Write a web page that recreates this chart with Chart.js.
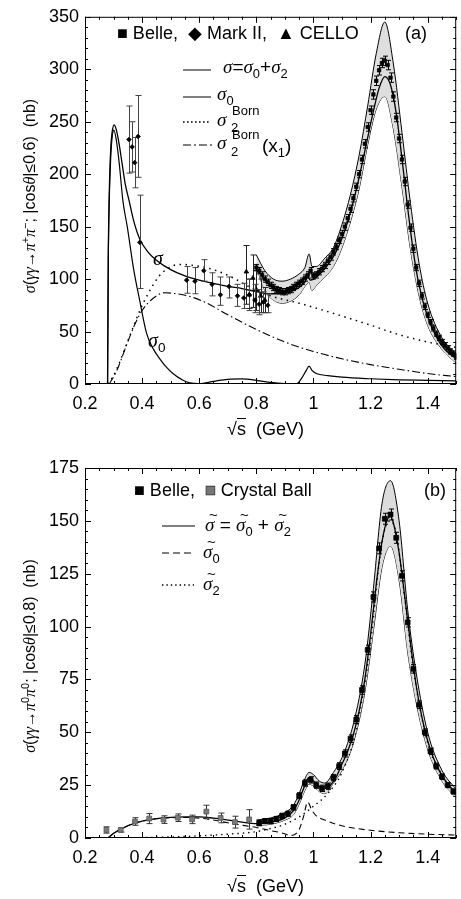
<!DOCTYPE html>
<html><head><meta charset="utf-8">
<script src="https://cdn.jsdelivr.net/npm/chart.js@4.4.1/dist/chart.umd.min.js"></script>
<style>
html,body{margin:0;padding:0;background:#fff;}
body{width:461px;height:899px;position:relative;overflow:hidden;font-family:"Liberation Sans",Arial,sans-serif;color:#000;}
.panel{position:absolute;left:0;width:461px;}
.t{position:absolute;white-space:nowrap;line-height:1;z-index:2;}
.sym{font-family:"Liberation Serif","DejaVu Serif",serif;font-style:italic;}
sub,sup{font-family:"Liberation Sans",sans-serif;font-style:normal;font-size:68%;line-height:0;}
.ytitle{position:absolute;white-space:nowrap;transform:translate(-50%,-50%) rotate(-90deg);font-size:16px;line-height:1;z-index:2;}
.sm{font-size:13px;}
.tl{position:relative;display:inline-block;}
.tl::after{content:"~";position:absolute;left:4px;top:-8px;font-size:15px;font-style:normal;font-family:"Liberation Sans",sans-serif;}
svg.t{overflow:visible;}
</style></head>
<body>
<div class="panel" style="top:0;height:450px"><canvas id="cA"></canvas></div>
<div class="panel" style="top:450px;height:449px"><canvas id="cB"></canvas></div>

<!-- panel (a) labels -->
<div class="ytitle" style="left:30px;top:196px"><span class="sym">σ</span>(<span class="sym">γγ</span>→<span class="sym">π</span><sup>+</sup><span class="sym">π</span><sup>−</sup>; |cos<span class="sym">θ</span>|≤0.6)&nbsp;&nbsp;(nb)</div>
<div class="t" style="left:227px;top:420px;font-size:18px">√<span style="border-top:1.4px solid #000">s</span>&nbsp;&nbsp;(GeV)</div>
<div class="t" style="left:117px;top:24px;font-size:18px">■ Belle,&nbsp; ◆ Mark II,&nbsp; ▲ CELLO</div>
<div class="t" style="left:405px;top:24px;font-size:18px">(a)</div>
<svg class="t" style="left:183px;top:64px" width="28" height="12"><line x1="0" y1="6" x2="28" y2="6" stroke="#000" stroke-width="1"/></svg>
<div class="t" style="left:223px;top:57px;font-size:19px"><span class="sym">σ</span>=<span class="sym">σ</span><sub>0</sub>+<span class="sym">σ</span><sub>2</sub></div>
<svg class="t" style="left:183px;top:91px" width="28" height="12"><line x1="0" y1="6" x2="28" y2="6" stroke="#000" stroke-width="1"/></svg>
<div class="t" style="left:217px;top:84px;font-size:19px"><span class="sym">σ</span><sub>0</sub></div>
<svg class="t" style="left:183px;top:116px" width="26" height="12"><line x1="0" y1="6" x2="26" y2="6" stroke="#000" stroke-width="1.6" stroke-dasharray="1.6 2.4"/></svg>
<div class="t sym" style="left:217px;top:110px;font-size:19px">σ</div>
<div class="t sm" style="left:231px;top:121px">2</div>
<div class="t sm" style="left:232px;top:104px">Born</div>
<svg class="t" style="left:183px;top:139px" width="30" height="12"><line x1="0" y1="6" x2="30" y2="6" stroke="#000" stroke-width="1" stroke-dasharray="8 3 2 3"/></svg>
<div class="t sym" style="left:217px;top:133px;font-size:19px">σ</div>
<div class="t sm" style="left:231px;top:145px">2</div>
<div class="t sm" style="left:232px;top:128px">Born</div>
<div class="t" style="left:262px;top:136px;font-size:19px">(x<sub>1</sub>)</div>
<div class="t sym" style="left:153px;top:248px;font-size:20px">σ</div>
<div class="t" style="left:148px;top:330px;font-size:20px"><span class="sym">σ</span><sub>0</sub></div>

<!-- panel (b) labels -->
<div class="ytitle" style="left:30px;top:656px"><span class="sym">σ</span>(<span class="sym">γγ</span>→<span class="sym">π</span><sup>0</sup><span class="sym">π</span><sup>0</sup>; |cos<span class="sym">θ</span>|≤0.8)&nbsp;&nbsp;(nb)</div>
<div class="t" style="left:227px;top:877px;font-size:18px">√<span style="border-top:1.4px solid #000">s</span>&nbsp;&nbsp;(GeV)</div>
<div class="t" style="left:134px;top:481px;font-size:18px">■ Belle,&nbsp; <span style="color:#777;-webkit-text-stroke:0.8px #333">■</span> Crystal Ball</div>
<div class="t" style="left:424px;top:481px;font-size:18px">(b)</div>
<svg class="t" style="left:162px;top:520px" width="33" height="12"><line x1="0" y1="6" x2="33" y2="6" stroke="#000" stroke-width="1"/></svg>
<div class="t" style="left:205px;top:515px;font-size:19px"><span class="sym tl">σ</span> = <span class="sym tl">σ</span><sub>0</sub> + <span class="sym tl">σ</span><sub>2</sub></div>
<svg class="t" style="left:162px;top:547px" width="32" height="12"><line x1="0" y1="6" x2="32" y2="6" stroke="#000" stroke-width="1" stroke-dasharray="7 4"/></svg>
<div class="t" style="left:203px;top:542px;font-size:19px"><span class="sym tl">σ</span><sub>0</sub></div>
<svg class="t" style="left:162px;top:579px" width="32" height="12"><line x1="0" y1="6" x2="32" y2="6" stroke="#000" stroke-width="1.4" stroke-dasharray="1.4 3"/></svg>
<div class="t" style="left:203px;top:574px;font-size:19px"><span class="sym tl">σ</span><sub>2</sub></div>

<script>
// ---------- axes ----------
const xTicks = [0.2, 0.4, 0.6, 0.8, 1.0, 1.2, 1.4];
const xTickLabels = ['0.2', '0.4', '0.6', '0.8', '1', '1.2', '1.4'];
const yTicksA = [0, 50, 100, 150, 200, 250, 300, 350];
const yTicksB = [0, 25, 50, 75, 100, 125, 150, 175];

// ---------- (a) gamma gamma -> pi+ pi- ----------
const sigA_x = [0.279, 0.2815, 0.285, 0.29, 0.295, 0.302, 0.31, 0.32, 0.33, 0.34, 0.355, 0.371, 0.392, 0.42, 0.45, 0.5, 0.55, 0.6, 0.65, 0.7, 0.75, 0.8, 0.84, 0.88, 0.92, 0.95, 0.97, 0.98, 0.99, 1.0, 1.03, 1.06, 1.09, 1.12, 1.15, 1.18, 1.21, 1.23, 1.25, 1.27, 1.29, 1.31, 1.33, 1.35, 1.37, 1.4, 1.43, 1.46, 1.5];
const sigA   = [0, 120, 182, 224, 240, 247, 242, 228, 210, 192, 174, 155, 138, 126, 118, 109, 103, 99, 96, 93, 91, 88, 86, 86, 88, 92, 97, 102, 99, 100, 107, 117, 132, 155, 185, 222, 260, 282, 293, 285, 258, 215, 168, 126, 94, 64, 45, 33, 24];

const sig0A_x = [0.279, 0.2815, 0.285, 0.29, 0.295, 0.301, 0.31, 0.32, 0.333, 0.348, 0.37, 0.392, 0.416, 0.44, 0.462, 0.485, 0.508, 0.54, 0.567, 0.6, 0.65, 0.7, 0.75, 0.8, 0.85, 0.9, 0.94, 0.96, 0.975, 0.985, 0.995, 1.01, 1.05, 1.1, 1.2, 1.3, 1.4, 1.5];
const sig0A   = [0, 115, 175, 215, 235, 242, 232, 210, 174, 150, 110, 79, 48, 33, 24, 16, 10, 4, 1, 0.3, 2.5, 4.5, 4.8, 3.5, 1.5, 0.3, 0, 6, 13, 17, 13, 10, 8, 6.5, 5, 4, 3.5, 3];

const bornA_x = [0.28, 0.3, 0.32, 0.347, 0.37, 0.392, 0.427, 0.46, 0.49, 0.53, 0.58, 0.65, 0.72, 0.78, 0.85, 0.95, 1.05, 1.19, 1.3, 1.4, 1.5];
const bornA   = [0, 8, 20, 39, 55, 70, 89, 103, 110, 114, 113, 109, 101, 92, 84, 77, 69, 57, 47, 40, 35];

const bornX1A_x = [0.285, 0.31, 0.34, 0.37, 0.4, 0.44, 0.48, 0.52, 0.56, 0.62, 0.7, 0.8, 0.9, 1.0, 1.1, 1.2, 1.3, 1.4, 1.5];
const bornX1A   = [0, 12, 33, 54, 70, 82, 87, 86, 84, 78, 66, 52, 40, 31, 24, 18.5, 14, 10, 7];

const bandA_x  = [0.80, 0.83, 0.86, 0.89, 0.92, 0.95, 0.97, 0.985, 0.995, 1.01, 1.04, 1.07, 1.10, 1.13, 1.16, 1.19, 1.22, 1.25, 1.28, 1.31, 1.34, 1.37, 1.40, 1.45, 1.50];
const bandA_hi = [123, 108, 100, 98, 100, 105, 111, 124, 112, 112, 120, 130, 152, 181, 218, 265, 315, 345, 305, 240, 172, 115, 77, 44, 29];
const bandA_lo = [112, 89, 80, 77, 79, 85, 93, 97, 89, 94, 102, 112, 130, 155, 186, 228, 262, 274, 243, 188, 128, 84, 56, 33, 20];

const belleA_x = [0.80, 0.81, 0.82, 0.83, 0.84, 0.85, 0.86, 0.87, 0.88, 0.89, 0.90, 0.91, 0.92, 0.93, 0.94, 0.95, 0.96, 0.97, 0.98, 0.99, 1.00, 1.01, 1.02, 1.03, 1.04, 1.05, 1.06, 1.07, 1.08, 1.09, 1.10, 1.11, 1.12, 1.13, 1.14, 1.15, 1.16, 1.17, 1.18, 1.19, 1.20, 1.21, 1.22, 1.23, 1.24, 1.25, 1.26, 1.27, 1.28, 1.29, 1.30, 1.31, 1.32, 1.33, 1.34, 1.35, 1.36, 1.37, 1.38, 1.39, 1.40, 1.41, 1.42, 1.43, 1.44, 1.45, 1.46, 1.47, 1.48, 1.49, 1.50];
const belleA   = [111, 108, 104, 100, 97, 94, 92, 90, 89, 88, 88, 89, 90, 92, 94, 96, 98, 101, 104, 108, 103, 104, 107, 110, 113, 117, 121, 126, 131, 137, 143, 150, 158, 167, 177, 188, 200, 214, 229, 245, 261, 276, 289, 299, 306, 308, 304, 292, 274, 254, 234, 214, 193, 171, 149, 129, 111, 96, 84, 74, 66, 59, 53, 48, 44, 40, 37, 34, 31, 29, 26];
const belleA_err = [3, 3, 3, 3, 3, 3, 3, 3, 3, 3, 3, 3, 3, 3, 3, 3, 3, 3, 3, 3, 3, 3, 3, 3, 3, 3, 3, 3, 3, 3, 3.5, 3.5, 3.5, 3.5, 3.5, 3.5, 3.5, 4, 4, 4, 4, 4.5, 4.5, 4.5, 4.5, 4.5, 4.5, 4.5, 4.5, 4, 4, 4, 4, 3.5, 3.5, 3.5, 3, 3, 3, 3, 2.5, 2.5, 2.5, 2.5, 2.5, 2.5, 2.5, 2.5, 2.5, 2.5, 2.5];

const markII_x  = [0.354, 0.365, 0.374, 0.386, 0.392, 0.556, 0.585, 0.616, 0.645, 0.674, 0.704, 0.734, 0.756, 0.776, 0.795, 0.81, 0.825, 0.84];
const markII    = [233, 226, 211, 236, 135, 99, 98, 108, 95, 85, 93, 84, 82, 85, 80, 76, 78, 75];
const markII_lo = [201, 202, 187, 197, 91, 86.5, 86, 98, 84, 75, 82, 74, 72, 70, 68, 66, 68, 68];
const markII_hi = [265, 250, 235, 275, 180, 112, 111, 118.5, 106, 102, 102, 95, 96, 100, 95, 90, 88, 86];

const cello_x  = [0.765, 0.775, 0.788, 0.80, 0.815, 0.83];
const cello    = [107, 85, 101, 90, 84, 80];
const cello_lo = [76, 72, 73, 70, 68, 68];
const cello_hi = [132, 100, 123, 108, 100, 92];

// ---------- (b) gamma gamma -> pi0 pi0 ----------
const sigB_x = [0.28, 0.30, 0.35, 0.40, 0.45, 0.50, 0.55, 0.60, 0.65, 0.70, 0.75, 0.80, 0.85, 0.90, 0.93, 0.95, 0.97, 0.98, 0.99, 1.00, 1.02, 1.04, 1.06, 1.08, 1.10, 1.12, 1.14, 1.16, 1.18, 1.20, 1.22, 1.24, 1.26, 1.27, 1.28, 1.30, 1.32, 1.34, 1.36, 1.38, 1.40, 1.42, 1.44, 1.46, 1.48, 1.50];
const sigB   = [0, 2.2, 5.8, 8, 9.2, 9.8, 10, 10, 9.4, 8.5, 7.5, 6.8, 7.5, 9.5, 13, 18, 25, 28, 28.5, 27, 24.5, 23.5, 25, 29, 35, 41, 49, 60, 75, 96, 120, 140, 151, 152, 149, 135, 114, 92, 72, 57, 46, 38, 32, 27.5, 24, 21];

const sig0B_x = [0.28, 0.30, 0.35, 0.40, 0.45, 0.50, 0.55, 0.60, 0.65, 0.70, 0.75, 0.80, 0.85, 0.89, 0.92, 0.95, 0.965, 0.98, 0.995, 1.01, 1.04, 1.08, 1.12, 1.19, 1.30, 1.40, 1.50];
const sig0B   = [0, 2.2, 5.8, 8, 9.1, 9.6, 9.7, 9.4, 8.5, 7.2, 6, 5, 3.5, 2.4, 1.2, 4, 10, 17, 13, 10.5, 8.5, 6.5, 5.2, 3.8, 2.5, 1.8, 1.4];

const sig2B_x = [0.28, 0.40, 0.50, 0.60, 0.70, 0.80, 0.85, 0.90, 0.95, 1.00, 1.05, 1.10, 1.15, 1.20, 1.23, 1.25, 1.27, 1.29, 1.32, 1.35, 1.40, 1.45, 1.50];
const sig2B   = [0, 0.2, 0.5, 1, 1.8, 3, 4.5, 6.5, 10, 15, 21, 31, 51, 92, 130, 146, 150, 144, 113, 80, 45, 30, 20];

const bandB_x  = [0.80, 0.85, 0.90, 0.93, 0.95, 0.97, 0.985, 1.00, 1.02, 1.04, 1.07, 1.10, 1.14, 1.18, 1.21, 1.24, 1.27, 1.30, 1.33, 1.36, 1.40, 1.45, 1.50];
const bandB_hi = [8.5, 9.5, 12, 15.5, 21, 28, 31, 30, 27, 26, 31, 38, 54, 82, 118, 158, 169, 150, 108, 78, 50, 32, 23];
const bandB_lo = [6, 6.5, 8.5, 11, 16, 22.5, 25.5, 24.5, 22, 21, 26, 32, 45, 69, 98, 128, 138, 122, 88, 64, 42, 27, 19];

const belleB_x = [0.81, 0.83, 0.85, 0.87, 0.89, 0.91, 0.93, 0.95, 0.97, 0.99, 1.01, 1.03, 1.05, 1.07, 1.09, 1.11, 1.13, 1.15, 1.17, 1.19, 1.21, 1.23, 1.25, 1.27, 1.29, 1.31, 1.33, 1.35, 1.37, 1.39, 1.41, 1.43, 1.45, 1.47, 1.49];
const belleB   = [7, 8, 8, 9, 10.5, 11.5, 14.5, 20, 26, 27.5, 25, 23.5, 24.5, 28.5, 34, 40, 47, 56, 70, 89, 114, 137, 151, 153, 142, 124, 102, 80, 63, 50, 41, 34, 29, 25, 22];
const belleB_err = [1.2, 1.2, 1.2, 1.2, 1.2, 1.2, 1.3, 1.4, 1.5, 1.5, 1.5, 1.5, 1.5, 1.5, 1.6, 1.7, 1.8, 1.9, 2, 2.2, 2.4, 2.6, 2.6, 2.6, 2.6, 2.4, 2.2, 2, 1.8, 1.6, 1.5, 1.4, 1.3, 1.2, 1.2];

const cball_x  = [0.275, 0.325, 0.375, 0.425, 0.475, 0.525, 0.575, 0.625, 0.675, 0.725, 0.775];
const cball    = [3.8, 3.8, 7.8, 9.2, 8.7, 9.6, 8.8, 12.5, 9.5, 7.5, 8.8];
const cball_err = [1.5, 1, 1.8, 2.4, 1.8, 1.8, 2, 3, 2.3, 2.8, 4.6];

// ---------- helpers ----------
const pts = (xs, ys) => xs.map((x, i) => ({x, y: ys[i]}));
const curve = (xs, ys, dash, width) => ({
  data: pts(xs, ys), showLine: true, pointRadius: 0, borderColor: '#000',
  borderWidth: width || 1.3, borderDash: dash || [], cubicInterpolationMode: 'monotone', fill: false
});
const bandPair = (xs, hi, lo, color) => [
  {data: pts(xs, hi), showLine: true, pointRadius: 0, borderColor: '#000', borderWidth: 1,
   cubicInterpolationMode: 'monotone', fill: '+1', backgroundColor: color},
  {data: pts(xs, lo), showLine: true, pointRadius: 0, borderColor: '#000', borderWidth: 1,
   cubicInterpolationMode: 'monotone', fill: false}
];
const markers = (xs, ys, lo, hi, style, r, fillC, edgeC, errC, cap) => ({
  data: pts(xs, ys), showLine: false, pointStyle: style, pointRadius: r,
  backgroundColor: fillC, borderColor: edgeC, borderWidth: 0.8,
  errLo: lo, errHi: hi, errColor: errC, capW: cap
});

// error bars are drawn right before their dataset's markers
const errorBars = {
  id: 'errorBars',
  beforeDatasetDraw(chart, args) {
    const ds = chart.data.datasets[args.index];
    if (!ds.errLo) return;
    const {ctx, chartArea: a} = chart;
    const xs = chart.scales.x, ys = chart.scales.y;
    ctx.save();
    ctx.beginPath(); ctx.rect(a.left, a.top, a.right - a.left, a.bottom - a.top); ctx.clip();
    ctx.strokeStyle = ds.errColor; ctx.lineWidth = 1;
    ctx.beginPath();
    ds.data.forEach((p, i) => {
      const px = Math.round(xs.getPixelForValue(p.x)) + 0.5;
      const t = ys.getPixelForValue(ds.errHi[i]), b = ys.getPixelForValue(ds.errLo[i]);
      const c = ds.capW;
      ctx.moveTo(px, t); ctx.lineTo(px, b);
      ctx.moveTo(px - c, t); ctx.lineTo(px + c, t);
      ctx.moveTo(px - c, b); ctx.lineTo(px + c, b);
    });
    ctx.stroke();
    ctx.restore();
  }
};

// boxed frame with inward major/minor ticks on all four sides
const frame = {
  id: 'frame',
  afterDraw(chart, args, o) {
    const {ctx, chartArea: a} = chart;
    const xs = chart.scales.x, ys = chart.scales.y;
    ctx.save();
    ctx.strokeStyle = '#000'; ctx.lineWidth = 1;
    ctx.strokeRect(a.left + 0.5, a.top + 0.5, a.right - a.left - 1, a.bottom - a.top - 1);
    ctx.beginPath();
    const nx = Math.round((xs.max - xs.min) / o.xMinor);
    for (let k = 0; k <= nx; k++) {
      const v = xs.min + k * o.xMinor;
      const major = Math.abs(v / o.xMajor - Math.round(v / o.xMajor)) < 1e-6;
      const L = major ? 6 : 3;
      const px = Math.round(xs.getPixelForValue(v)) + 0.5;
      ctx.moveTo(px, a.bottom); ctx.lineTo(px, a.bottom - L);
      ctx.moveTo(px, a.top); ctx.lineTo(px, a.top + L);
    }
    const ny = Math.round((ys.max - ys.min) / o.yMinor);
    for (let k = 0; k <= ny; k++) {
      const v = ys.min + k * o.yMinor;
      const major = Math.abs(v / o.yMajor - Math.round(v / o.yMajor)) < 1e-6;
      const L = major ? 6 : 3;
      const py = Math.round(ys.getPixelForValue(v)) + 0.5;
      ctx.moveTo(a.left, py); ctx.lineTo(a.left + L, py);
      ctx.moveTo(a.right, py); ctx.lineTo(a.right - L, py);
    }
    ctx.stroke();
    ctx.restore();
  }
};

const tickFont = {family: '"Liberation Sans", Arial, sans-serif', size: 18};

function makeOptions(yTicks, yMax, padTop, xHeight, frameOpts) {
  return {
    responsive: true, maintainAspectRatio: false, animation: false, devicePixelRatio: 1,
    layout: {padding: {top: padTop, right: 2, left: 0, bottom: 0}},
    plugins: {legend: {display: false}, tooltip: {enabled: false}, frame: frameOpts},
    scales: {
      x: {
        type: 'linear', min: 0.2, max: 1.5,
        afterBuildTicks: s => { s.ticks = xTicks.map(v => ({value: v})); },
        afterFit: s => { s.height = xHeight; },
        ticks: {callback: (v, i) => xTickLabels[i], font: tickFont, color: '#000', padding: 9, maxRotation: 0, autoSkip: false},
        grid: {display: false, drawTicks: false}, border: {display: false}
      },
      y: {
        type: 'linear', min: 0, max: yMax,
        afterBuildTicks: s => { s.ticks = yTicks.map(v => ({value: v})); },
        afterFit: s => { s.width = 85; },
        ticks: {callback: v => String(v), font: tickFont, color: '#000', padding: 6, autoSkip: false},
        grid: {display: false, drawTicks: false}, border: {display: false}
      }
    }
  };
}

// panel (a)
new Chart(document.getElementById('cA'), {
  type: 'scatter',
  data: {datasets: [
    markers(belleA_x, belleA, belleA.map((v, i) => v - belleA_err[i]), belleA.map((v, i) => v + belleA_err[i]), 'rect', 2.4, '#000', '#000', '#000', 2.5),
    markers(markII_x, markII, markII_lo, markII_hi, 'rectRot', 2.3, '#000', '#000', '#444', 3),
    markers(cello_x, cello, cello_lo, cello_hi, 'triangle', 2.6, '#000', '#000', '#222', 3),
    curve(sigA_x, sigA, [], 1.3),
    curve(sig0A_x, sig0A, [], 1.2),
    curve(bornA_x, bornA, [1.5, 4.5], 1.5),
    curve(bornX1A_x, bornX1A, [8, 3, 1.5, 3], 1.1),
    ...bandPair(bandA_x, bandA_hi, bandA_lo, '#dedede')
  ]},
  options: makeOptions(yTicksA, 350, 13, 66, {xMinor: 0.05, xMajor: 0.2, yMinor: 10, yMajor: 50}),
  plugins: [errorBars, frame]
});

// panel (b)
new Chart(document.getElementById('cB'), {
  type: 'scatter',
  data: {datasets: [
    markers(belleB_x, belleB, belleB.map((v, i) => v - belleB_err[i]), belleB.map((v, i) => v + belleB_err[i]), 'rect', 3.4, '#000', '#000', '#000', 2.5),
    markers(cball_x, cball, cball.map((v, i) => v - cball_err[i]), cball.map((v, i) => v + cball_err[i]), 'rect', 3.4, '#7a7a7a', '#555', '#333', 3),
    curve(sigB_x, sigB, [], 1.3),
    curve(sig0B_x, sig0B, [6, 4], 1.1),
    curve(sig2B_x, sig2B, [1.4, 4], 1.4),
    ...bandPair(bandB_x, bandB_hi, bandB_lo, '#dcdcdc')
  ]},
  options: makeOptions(yTicksB, 175, 18, 61, {xMinor: 0.05, xMajor: 0.2, yMinor: 5, yMajor: 25}),
  plugins: [errorBars, frame]
});
</script>
</body></html>
